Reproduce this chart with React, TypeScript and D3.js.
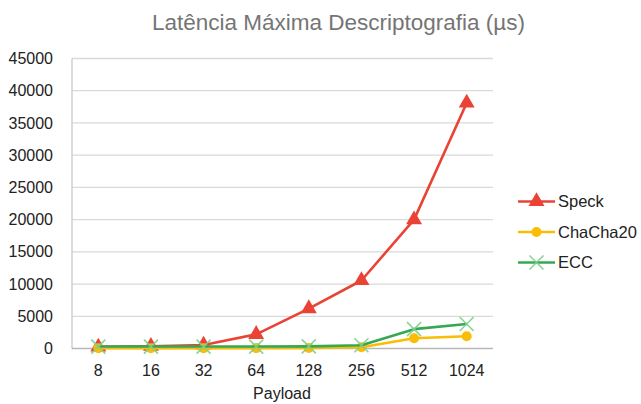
import React from "react";
import * as d3 from "d3";

const payloads = ["8", "16", "32", "64", "128", "256", "512", "1024"];
const speck = [250, 350, 550, 2200, 6200, 10550, 20000, 38100];
const chacha20 = [30, 30, 40, 60, 90, 200, 1600, 1900];
const ecc = [300, 300, 300, 300, 330, 500, 3000, 3800];
const yTicks = [0, 5000, 10000, 15000, 20000, 25000, 30000, 35000, 40000, 45000];

const W = 641;
const H = 404;
const left = 72;
const right = 493;
const top = 58.5;
const bottom = 348.5;

const series = [
  { name: "Speck", values: speck, color: "#EA4335", marker: "triangle" },
  { name: "ChaCha20", values: chacha20, color: "#FBBC04", marker: "circle" },
  { name: "ECC", values: ecc, color: "#34A853", marker: "x" },
];

function Marker({ kind, x, y, color }: { kind: string; x: number; y: number; color: string }) {
  if (kind === "triangle") {
    const p = d3.symbol().type(d3.symbolTriangle).size(110)();
    return <path d={p || ""} transform={`translate(${x},${y})`} fill={color} />;
  }
  if (kind === "circle") {
    return <circle cx={x} cy={y} r={5} fill={color} />;
  }
  const s = 7;
  return (
    <g stroke="#7fcf8c" strokeWidth={1.6} opacity={0.9}>
      <line x1={x - s} y1={y - s} x2={x + s} y2={y + s} />
      <line x1={x - s} y1={y + s} x2={x + s} y2={y - s} />
    </g>
  );
}

export default function App() {
  const x = d3.scalePoint<string>().domain(payloads).range([left, right]).padding(0.5);
  const y = d3.scaleLinear().domain([0, 45000]).range([bottom, top]);
  const line = d3
    .line<number>()
    .x((_, i) => x(payloads[i]) as number)
    .y((v) => y(v));

  const font = "'Liberation Sans', Arial, sans-serif";

  return (
    <svg width={W} height={H} style={{ position: "absolute", left: 0, top: 0, background: "#fff" }} fontFamily={font}>
      <rect width={W} height={H} fill="#fff" />
      <text x={338.5} y={30} textAnchor="middle" fontSize={22.5} fill="#757575">
        Latência Máxima Descriptografia (µs)
      </text>
      {yTicks.map((t) => (
        <g key={t}>
          {t !== 0 && (
            <line x1={left} x2={right} y1={y(t)} y2={y(t)} stroke="#d9d9d9" strokeWidth={1.3} />
          )}
          <text x={53} y={y(t)} dy="0.35em" textAnchor="end" fontSize={16} fill="#222">
            {t}
          </text>
        </g>
      ))}
      <line x1={left} x2={left} y1={top} y2={bottom} stroke="#c8c8c8" strokeWidth={1.3} />
      <line x1={left} x2={right} y1={bottom} y2={bottom} stroke="#b8b8b8" strokeWidth={1.3} />
      {payloads.map((p) => (
        <text key={p} x={x(p)} y={370} dy="0.35em" textAnchor="middle" fontSize={16} fill="#222">
          {p}
        </text>
      ))}
      <text x={282} y={393} dy="0.35em" textAnchor="middle" fontSize={16} fill="#222">
        Payload
      </text>
      {series.map((s) => (
        <g key={s.name}>
          <path d={line(s.values) || ""} fill="none" stroke={s.color} strokeWidth={2.6} strokeLinejoin="round" />
          {s.values.map((v, i) => (
            <Marker key={i} kind={s.marker} x={x(payloads[i]) as number} y={y(v)} color={s.color} />
          ))}
        </g>
      ))}
      {series.map((s, i) => {
        const ly = 201.5 + i * 30.5;
        return (
          <g key={s.name}>
            <line x1={518} x2={555} y1={ly} y2={ly} stroke={s.color} strokeWidth={2.6} />
            <Marker kind={s.marker} x={536.5} y={ly} color={s.color} />
            <text x={558} y={ly} dy="0.35em" fontSize={16.5} fill="#222">
              {s.name}
            </text>
          </g>
        );
      })}
    </svg>
  );
}
